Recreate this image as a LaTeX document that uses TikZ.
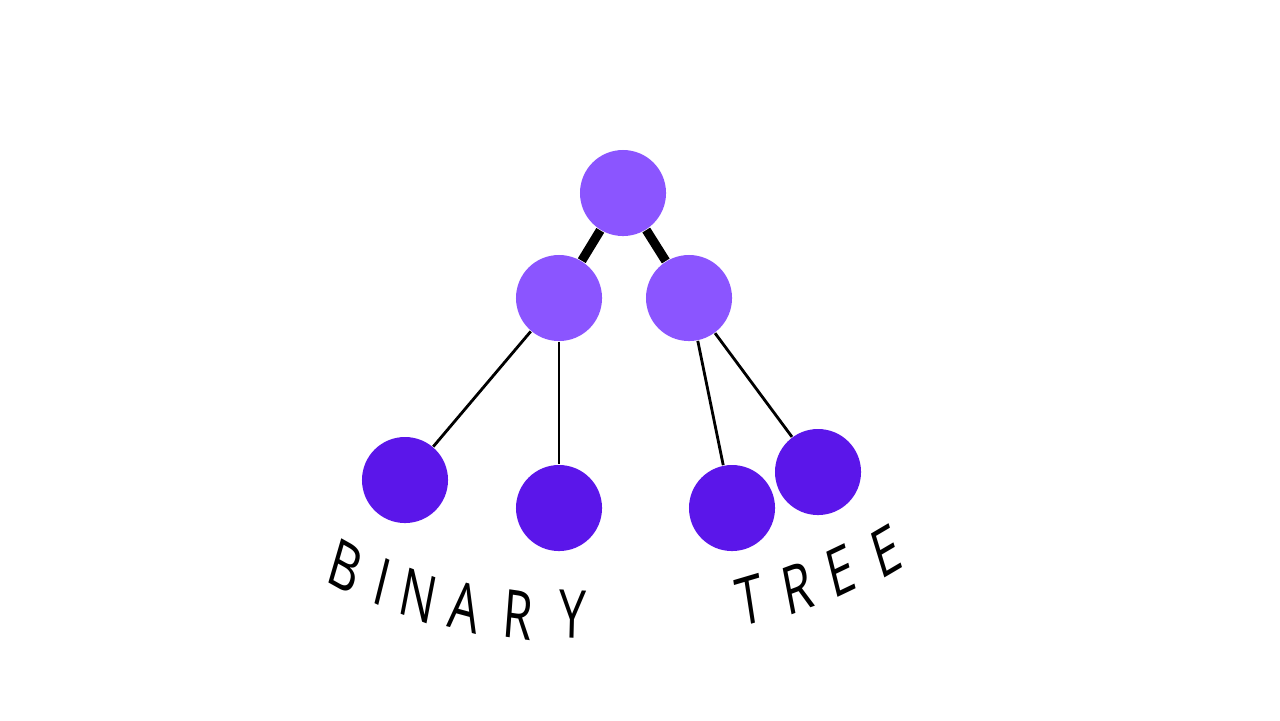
\documentclass[tikz,border=0pt]{standalone}
\usepackage{fontspec}
\setmainfont{Open Sans}
\definecolor{lite}{HTML}{8B55FF}
\definecolor{dark}{HTML}{5B16EA}
\begin{document}
\begin{tikzpicture}[x=0.01cm,y=-0.01cm,
  top/.style={circle,fill=lite,minimum size=0.86cm,inner sep=0},
  leaf/.style={circle,fill=dark,minimum size=0.86cm,inner sep=0},
  thick edge/.style={line width=2.6pt},
  thin edge/.style={line width=0.8pt},
  letter/.style={font=\fontsize{19}{19}\selectfont,xscale=0.72,inner sep=0}]
\useasboundingbox (0,0) rectangle (1280,720);
\node[top] (r) at (623,193) {};
\node[top] (a) at (559,298) {};
\node[top] (b) at (689,298) {};
\node[leaf] (l1) at (405,480) {};
\node[leaf] (l2) at (559,508) {};
\node[leaf] (l3) at (732,508) {};
\node[leaf] (l4) at (818,472) {};
\begin{scope}[on background layer/.style={}]
\end{scope}
\draw[thick edge] (r) -- (a);
\draw[thick edge] (r) -- (b);
\draw[thin edge] (a) -- (l1);
\draw[thin edge] (a) -- (l2);
\draw[thin edge] (b) -- (l3);
\draw[thin edge] (b) -- (l4);
\node[letter,rotate=-22] (t1) at (345,566) {B};
\node[letter,rotate=-19] (t2) at (382,582) {I};
\node[letter,rotate=-15] (t3) at (418,596) {N};
\node[letter,rotate=-11] (t4) at (465,607) {A};
\node[letter,rotate=-6] (t5) at (518,615) {R};
\node[letter,rotate=-2] (t6) at (573,614) {Y};
\node[letter,rotate=12] (u1) at (750,600) {T};
\node[letter,rotate=15] (u2) at (797,588) {R};
\node[letter,rotate=19] (u3) at (841,571) {E};
\node[letter,rotate=23] (u4) at (886,551) {E};
\end{tikzpicture}
\end{document}
